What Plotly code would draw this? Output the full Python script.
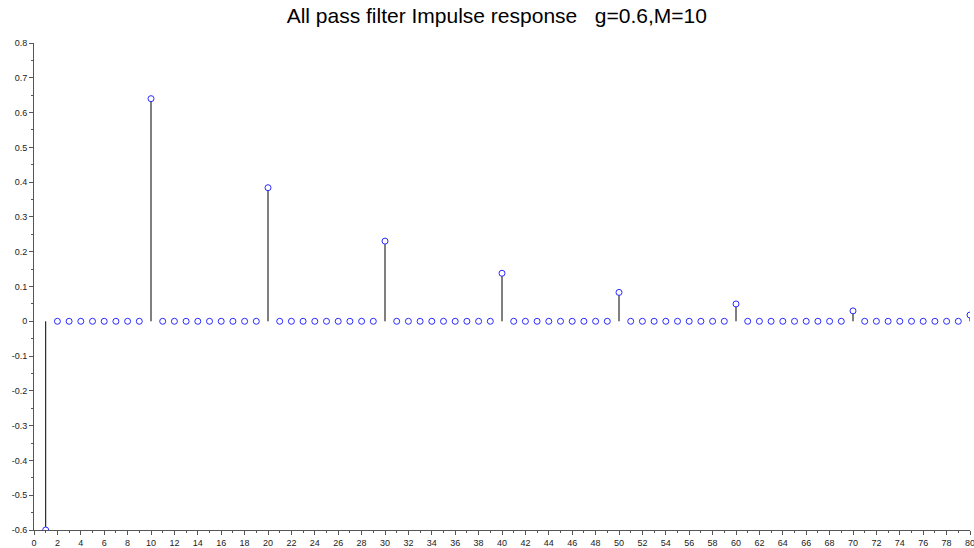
import plotly.graph_objects as go

n = list(range(1, 81))
impulse_idx = [1, 10, 20, 30, 40, 50, 60, 70, 80]
impulse_val = [-0.6, 0.64, 0.384, 0.2304, 0.138, 0.083, 0.0498, 0.0299, 0.018]
h = [0.0] * len(n)
for i, v in zip(impulse_idx, impulse_val):
    h[n.index(i)] = v

x_ticks = list(range(0, 81, 2))
y_ticks = [round(-0.6 + 0.1 * k, 1) for k in range(15)]
y_ticktext = ["0" if v == 0 else ("%g" % v) for v in y_ticks]
title = "All pass filter Impulse response   g=0.6,M=10"

stem_x, stem_y = [], []
for xi, yi in zip(n, h):
    stem_x += [xi, xi, None]
    stem_y += [0, yi, None]

fig = go.Figure()
fig.add_trace(go.Scatter(x=stem_x, y=stem_y, mode="lines",
                         line=dict(color="black", width=1), hoverinfo="skip",
                         showlegend=False))
fig.add_trace(go.Scatter(x=n, y=h, mode="markers",
                         marker=dict(symbol="circle", color="white", size=6,
                                     line=dict(width=1, color="#2a2aff")),
                         showlegend=False))

axis_common = dict(showgrid=False, zeroline=False, showline=True, automargin=False,
                   linecolor="#555555", linewidth=1, ticks="outside",
                   ticklen=4, tickcolor="#555555", ticklabeloverflow="allow",
                   tickfont=dict(family="Liberation Sans, Arial, sans-serif",
                                 size=9, color="#222222"))
fig.update_layout(
    width=974, height=548,
    margin=dict(l=34, r=4, t=43, b=18),
    paper_bgcolor="white", plot_bgcolor="white",
    title=dict(text=title, x=0.51, xanchor="center", y=0.985, yanchor="top",
               font=dict(family="Liberation Sans, Arial, sans-serif", size=21,
                         color="black")),
    xaxis=dict(range=[0, 80], tickvals=x_ticks, ticktext=[str(v) for v in x_ticks],
               minor=dict(ticks="outside", dtick=1, tick0=0, ticklen=2,
                          tickcolor="#555555"),
               **axis_common),
    yaxis=dict(range=[-0.6, 0.8], tickvals=y_ticks, ticktext=y_ticktext,
               minor=dict(ticks="outside", dtick=0.05, tick0=0, ticklen=2,
                          tickcolor="#555555"),
               **axis_common),
)
fig.write_html("out.html", config={"displayModeBar": False},
               post_script="document.body.style.margin='0';"
                           "document.body.style.overflow='hidden';")
